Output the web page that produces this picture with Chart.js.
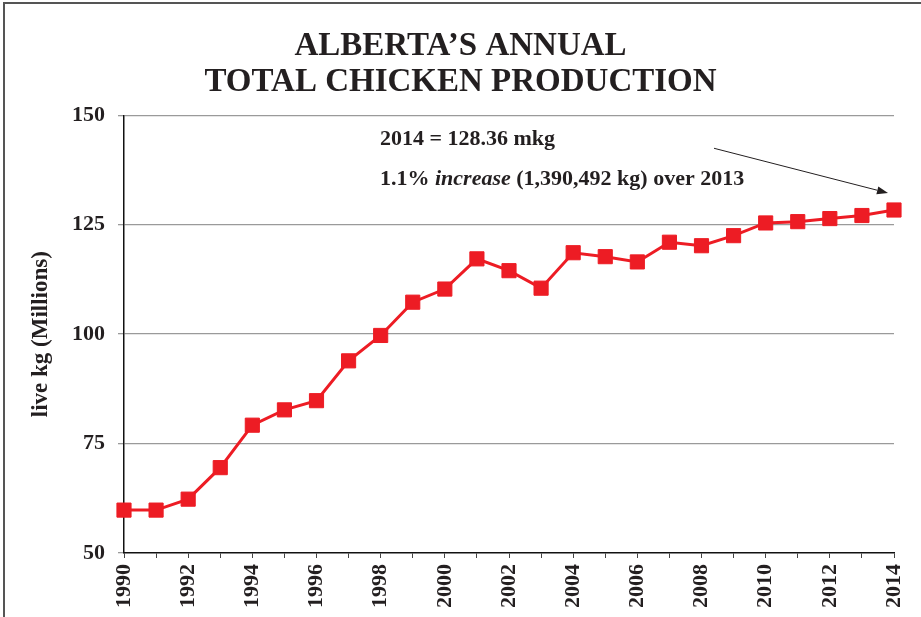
<!DOCTYPE html>
<html><head><meta charset="utf-8">
<script src="https://cdn.jsdelivr.net/npm/chart.js@4/dist/chart.umd.min.js"></script>
<style>
html,body{margin:0;padding:0;background:#fff;overflow:hidden;}
#wrap{position:relative;width:921px;height:617px;overflow:hidden;}
#frame{position:absolute;left:3px;top:2px;width:940px;height:640px;border-left:2px solid #555;border-top:2px solid #555;pointer-events:none;}
canvas{position:absolute;left:0;top:0;}
</style></head><body>
<div id="wrap"><canvas id="c" width="921" height="617"></canvas><div id="frame"></div></div>
<script>
const years = ["1990","1991","1992","1993","1994","1995","1996","1997","1998","1999","2000","2001","2002","2003","2004","2005","2006","2007","2008","2009","2010","2011","2012","2013","2014"];
const production = [59.8,59.8,62.3,69.5,79.2,82.7,84.8,93.9,99.7,107.3,110.3,117.2,114.5,110.5,118.6,117.7,116.5,121.0,120.2,122.5,125.4,125.7,126.4,127.1,128.36];
const yTicks = [50,75,100,125,150];
const titleLines = ["ALBERTA\u2019S ANNUAL","TOTAL CHICKEN PRODUCTION"];
const yAxisTitle = "live kg (Millions)";
const noteLine1 = "2014 = 128.36 mkg";
const noteLine2 = [
  {text:"1.1% ", italic:false},
  {text:"increase", italic:true},
  {text:" (1,390,492 kg) over 2013", italic:false}
];

const SERIF = '"Liberation Serif", "Times New Roman", serif';
const TXT = '#231f20';
const RED = '#ed1c24';

const annot = {
  id:'annot',
  afterDraw(chart){
    const {ctx, chartArea:a, scales:{x,y}} = chart;
    ctx.save();
    ctx.fillStyle = TXT;
    ctx.textBaseline = 'alphabetic';
    ctx.textAlign = 'left';
    const tx = a.left + 256;
    ctx.font = 'bold 22px ' + SERIF;
    ctx.fillText(noteLine1, tx, a.top + 30);
    let cx = tx;
    for (const p of noteLine2) {
      ctx.font = (p.italic ? 'italic ' : '') + 'bold 22px ' + SERIF;
      ctx.fillText(p.text, cx, a.top + 70);
      cx += ctx.measureText(p.text).width;
    }
    const last = years.length - 1;
    const px = x.getPixelForValue(last), py = y.getPixelForValue(production[last]);
    const ex = px - 6, ey = py - 17;
    const sx = tx + 334, sy = a.top + 33;
    const ang = Math.atan2(ey - sy, ex - sx);
    const L = 11, W = 4;
    const bx = ex - L*Math.cos(ang), by = ey - L*Math.sin(ang);
    ctx.strokeStyle = TXT;
    ctx.lineWidth = 1;
    ctx.beginPath(); ctx.moveTo(sx, sy); ctx.lineTo(bx, by); ctx.stroke();
    ctx.beginPath();
    ctx.moveTo(ex, ey);
    ctx.lineTo(bx + W*Math.sin(ang), by - W*Math.cos(ang));
    ctx.lineTo(bx - W*Math.sin(ang), by + W*Math.cos(ang));
    ctx.closePath(); ctx.fill();
    ctx.restore();
  }
};

new Chart(document.getElementById('c'), {
  type:'line',
  data:{
    labels: years,
    datasets:[{
      data: production,
      borderColor: RED,
      backgroundColor: RED,
      borderWidth: 3,
      pointStyle: 'rect',
      pointRadius: 10,
      pointBorderWidth: 1,
      pointBorderColor: RED,
      pointBackgroundColor: RED,
      tension: 0,
      clip: false
    }]
  },
  options:{
    responsive:false,
    devicePixelRatio:1,
    animation:false,
    events:[],
    layout:{padding:{left:10, right:10, top:0, bottom:3}},
    plugins:{
      legend:{display:false},
      tooltip:{enabled:false},
      title:{
        display:true,
        text:titleLines,
        color:TXT,
        font:{family:SERIF, size:33, weight:'bold', lineHeight:1.08},
        padding:{top:29, bottom:15}
      }
    },
    scales:{
      x:{
        offset:false,
        afterFit:(s)=>{ s.paddingRight = 27; s.paddingLeft = 0; },
        grid:{display:true, drawOnChartArea:false, drawTicks:true, tickLength:5, color:'#444', lineWidth:1},
        border:{display:true, color:'#111', width:1.5},
        ticks:{
          autoSkip:false, minRotation:90, maxRotation:90, padding:6,
          color:TXT, font:{family:SERIF, size:22, weight:'bold'},
          callback:(v,i)=> (i % 2 === 0 ? years[i] : '')
        }
      },
      y:{
        min:50, max:150,
        afterBuildTicks:(s)=>{ s.ticks = yTicks.map(v=>({value:v})); },
        afterFit:(s)=>{ s.width = 114; },
        grid:{
          color:(c)=> (c.tick && c.tick.value === 50 ? 'rgba(0,0,0,0)' : '#9a9a9a'),
          tickColor:'#9a9a9a', lineWidth:1.3, tickLength:6
        },
        border:{display:true, color:'#111', width:1.5},
        ticks:{color:TXT, padding:13, font:{family:SERIF, size:22, weight:'bold'}},
        title:{display:true, text:yAxisTitle, color:TXT, font:{family:SERIF, size:23, weight:'bold'}, padding:{top:17, bottom:0}}
      }
    }
  },
  plugins:[annot]
});
</script>
</body></html>
